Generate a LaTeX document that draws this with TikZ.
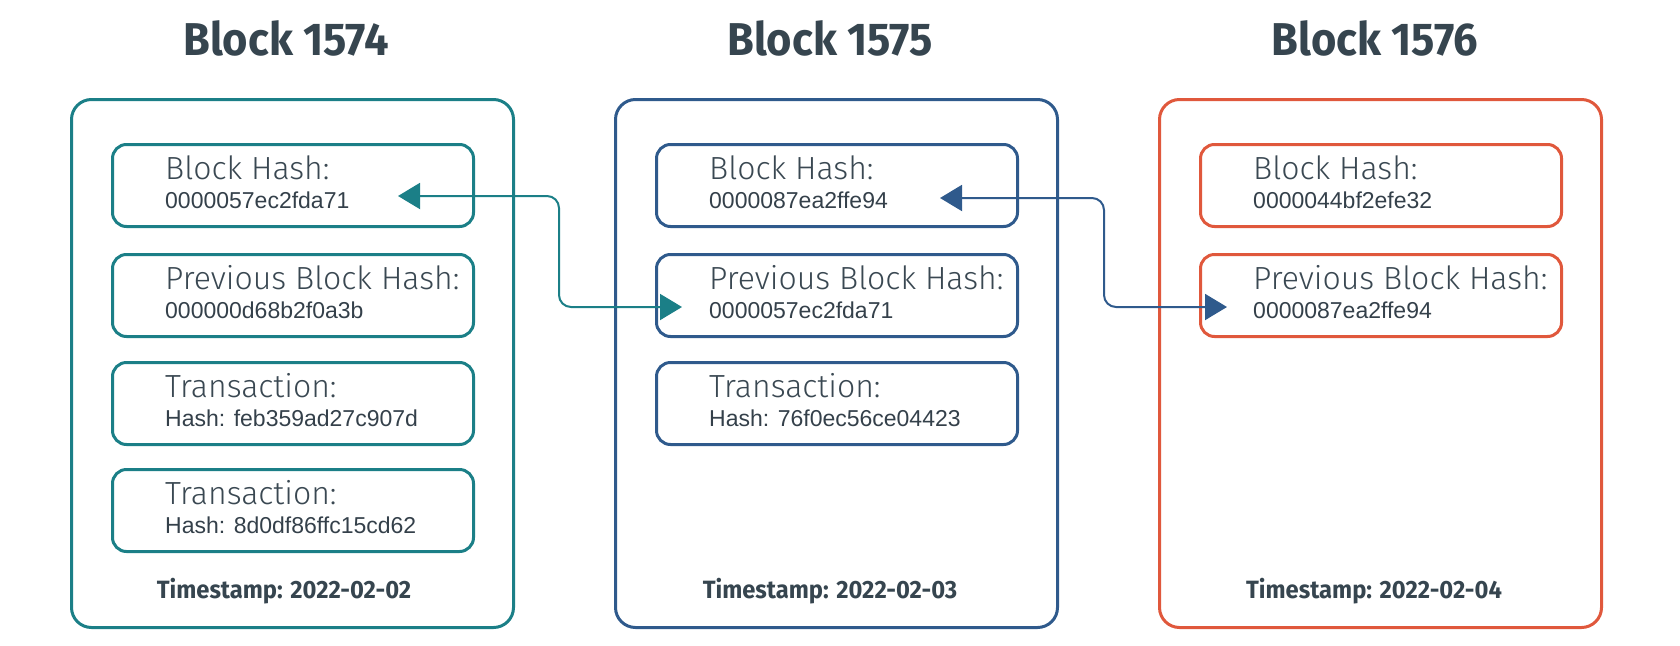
\documentclass[tikz,border=0pt]{standalone}
\usepackage{fontspec}
\setmainfont{Liberation Sans}
\newfontfamily\titlefont[FakeStretch=0.945]{Fira Sans}
\newfontfamily\tsfont[FakeStretch=0.95]{Fira Sans}
\newfontfamily\lightfont{Fira Sans Light}
\newfontfamily\hashfont{Liberation Sans}
\usetikzlibrary{arrows.meta,calc}
\definecolor{cteal}{HTML}{1B7F87}
\definecolor{cblue}{HTML}{2F5A8C}
\definecolor{corange}{HTML}{E0583C}
\definecolor{ctitle}{HTML}{36454F}
\definecolor{clabel}{HTML}{3A4852}
\definecolor{chash}{HTML}{34404A}
\tikzset{
  outerbox/.style={rounded corners=20pt, line width=3pt, minimum width=442pt, minimum height=528pt, anchor=north west, inner sep=0pt},
  innerbox/.style={rounded corners=14pt, line width=3pt, minimum width=361pt, minimum height=82pt, anchor=north west, inner sep=0pt},
  titletext/.style={font=\titlefont\bfseries\fontsize{46}{50}\selectfont, text=ctitle},
  labeltext/.style={font=\lightfont\fontsize{32}{36}\selectfont, text=clabel, anchor=base west, inner sep=0pt},
  hashtext/.style={font=\hashfont\fontsize{23}{26}\selectfont, text=chash, anchor=base west, inner sep=0pt},
  tstext/.style={font=\tsfont\bfseries\fontsize{25}{28}\selectfont, text=ctitle},
  conn/.style={line width=2pt, rounded corners=12pt, {Triangle[length=22pt,width=26pt]}-{Triangle[length=22pt,width=26pt]}}
}
\begin{document}
\begin{tikzpicture}[x=1pt,y=-1pt]
\useasboundingbox (0,0) rectangle (1680,645);
% titles
\node[titletext] (t1) at (286,38) {Block 1574};
\node[titletext] (t2) at (830,38) {Block 1575};
\node[titletext] (t3) at (1375,38) {Block 1576};
% block 1
\node[outerbox, draw=cteal] (b1) at (70,98) {};
\node[innerbox, draw=cteal] (b1a) at (111,143) {};
\node[innerbox, draw=cteal] (b1b) at (111,253) {};
\node[innerbox, draw=cteal] (b1c) at (111,361) {};
\node[innerbox, draw=cteal] (b1d) at (111,468) {};
\node[labeltext] (b1al) at ($(b1a.north west)+(54,36)$) {Block Hash:};
\node[hashtext] (b1av) at ($(b1a.north west)+(54,65)$) {0000057ec2fda71};
\node[labeltext] (b1bl) at ($(b1b.north west)+(54,36)$) {Previous Block Hash:};
\node[hashtext] (b1bv) at ($(b1b.north west)+(54,65)$) {000000d68b2f0a3b};
\node[labeltext] (b1cl) at ($(b1c.north west)+(54,36)$) {Transaction:};
\node[hashtext] (b1cv) at ($(b1c.north west)+(54,65)$) {Hash: feb359ad27c907d};
\node[labeltext] (b1dl) at ($(b1d.north west)+(54,36)$) {Transaction:};
\node[hashtext] (b1dv) at ($(b1d.north west)+(54,65)$) {Hash: 8d0df86ffc15cd62};
\node[tstext] (b1t) at (284,591) {Timestamp: 2022-02-02};
% block 2
\node[outerbox, draw=cblue] (b2) at (614,98) {};
\node[innerbox, draw=cblue] (b2a) at (655,143) {};
\node[innerbox, draw=cblue] (b2b) at (655,253) {};
\node[innerbox, draw=cblue] (b2c) at (655,361) {};
\node[labeltext] (b2al) at ($(b2a.north west)+(54,36)$) {Block Hash:};
\node[hashtext] (b2av) at ($(b2a.north west)+(54,65)$) {0000087ea2ffe94};
\node[labeltext] (b2bl) at ($(b2b.north west)+(54,36)$) {Previous Block Hash:};
\node[hashtext] (b2bv) at ($(b2b.north west)+(54,65)$) {0000057ec2fda71};
\node[labeltext] (b2cl) at ($(b2c.north west)+(54,36)$) {Transaction:};
\node[hashtext] (b2cv) at ($(b2c.north west)+(54,65)$) {Hash: 76f0ec56ce04423};
\node[tstext] (b2t) at (830,591) {Timestamp: 2022-02-03};
% block 3
\node[outerbox, draw=corange] (b3) at (1158,98) {};
\node[innerbox, draw=corange] (b3a) at (1199,143) {};
\node[innerbox, draw=corange] (b3b) at (1199,253) {};
\node[labeltext] (b3al) at ($(b3a.north west)+(54,36)$) {Block Hash:};
\node[hashtext] (b3av) at ($(b3a.north west)+(54,65)$) {0000044bf2efe32};
\node[labeltext] (b3bl) at ($(b3b.north west)+(54,36)$) {Previous Block Hash:};
\node[hashtext] (b3bv) at ($(b3b.north west)+(54,65)$) {0000087ea2ffe94};
\node[tstext] (b3t) at (1374,591) {Timestamp: 2022-02-04};
% connectors
\coordinate (a1s) at (398,196);
\coordinate (a1c) at (559,307);
\coordinate (a1e) at (682,307);
\draw[conn, cteal] (a1s) -| (a1c) -- (a1e);
\coordinate (a2s) at (940,198);
\coordinate (a2c) at (1104,307);
\coordinate (a2e) at (1227,307);
\draw[conn, cblue] (a2s) -| (a2c) -- (a2e);
\end{tikzpicture}
\end{document}
